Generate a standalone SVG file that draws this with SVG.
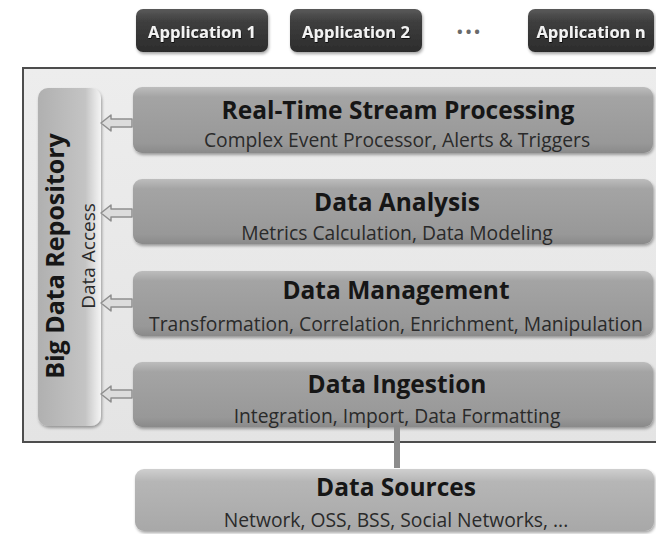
<svg xmlns="http://www.w3.org/2000/svg" width="656" height="534" viewBox="0 0 656 534">
  <defs>
    <linearGradient id="gLayer" x1="0" y1="0" x2="0" y2="1">
      <stop offset="0" stop-color="#bdbdbd"/>
      <stop offset="0.15" stop-color="#a4a4a4"/>
      <stop offset="0.85" stop-color="#989898"/>
      <stop offset="1" stop-color="#8a8a8a"/>
    </linearGradient>
    <linearGradient id="gSrc" x1="0" y1="0" x2="0" y2="1">
      <stop offset="0" stop-color="#cfcfcf"/>
      <stop offset="0.2" stop-color="#b6b6b6"/>
      <stop offset="1" stop-color="#a8a8a8"/>
    </linearGradient>
    <linearGradient id="gRepo" x1="0" y1="0" x2="1" y2="0">
      <stop offset="0" stop-color="#b0b0b0"/>
      <stop offset="0.75" stop-color="#c4c4c4"/>
      <stop offset="0.9" stop-color="#e2e2e2"/>
      <stop offset="1" stop-color="#f4f4f4"/>
    </linearGradient>
    <linearGradient id="gApp" x1="0" y1="0" x2="0" y2="1">
      <stop offset="0" stop-color="#5a5a5a"/>
      <stop offset="0.3" stop-color="#3e3e3e"/>
      <stop offset="1" stop-color="#2c2c2c"/>
    </linearGradient>
    <linearGradient id="gFrame" x1="0" y1="0" x2="0" y2="1">
      <stop offset="0" stop-color="#ededed"/>
      <stop offset="1" stop-color="#e4e4e4"/>
    </linearGradient>
    <filter id="shadow" x="-5%" y="-10%" width="110%" height="130%">
      <feDropShadow dx="1" dy="2" stdDeviation="1.5" flood-color="#000" flood-opacity="0.35"/>
    </filter>
    <filter id="tshadow" x="-5%" y="-20%" width="110%" height="140%">
      <feDropShadow dx="0.5" dy="1" stdDeviation="0.6" flood-color="#000" flood-opacity="0.8"/>
    </filter>
  </defs>
  <style>
    .layer { fill: url(#gLayer); filter: url(#shadow); }
    .src { fill: url(#gSrc); filter: url(#shadow); }
    .app { fill: url(#gApp); filter: url(#shadow); }
    .title { font-family: "Open Sans", "Liberation Sans", sans-serif; font-weight: bold; font-size: 24.5px; fill: #161616; text-anchor: middle; }
    .sub { font-family: "Open Sans", "Liberation Sans", sans-serif; font-size: 19.3px; fill: #2a2a2a; text-anchor: middle; }
    .apptext { font-family: "Open Sans", "Liberation Sans", sans-serif; font-weight: bold; font-size: 16.5px; fill: #f2f2f2; text-anchor: middle; filter: url(#tshadow); }
    .arrow { fill: #dcdcdc; stroke: #8e8e8e; stroke-width: 1.5; stroke-linejoin: round; }
  </style>

  <rect width="656" height="534" fill="#ffffff"/>

  <!-- Applications -->
  <g id="app1">
    <rect class="app" x="136" y="9" width="132" height="43" rx="7"/>
    <text class="apptext" x="202" y="38">Application 1</text>
  </g>
  <g id="app2">
    <rect class="app" x="290" y="9" width="132" height="43" rx="7"/>
    <text class="apptext" x="356" y="38">Application 2</text>
  </g>
  <g id="dots">
    <text x="470" y="37" font-family="'Open Sans', 'Liberation Sans', sans-serif" font-weight="bold" font-size="15" letter-spacing="3" fill="#6a6a6a" text-anchor="middle">•••</text>
  </g>
  <g id="appn">
    <rect class="app" x="528" y="9" width="126" height="43" rx="7"/>
    <text class="apptext" x="591" y="38">Application n</text>
  </g>

  <!-- Platform frame -->
  <g id="platform">
    <rect x="23" y="68" width="640" height="374" fill="url(#gFrame)" stroke="#4d4d4d" stroke-width="2"/>
  </g>

  <!-- Big Data Repository -->
  <g id="repository">
    <rect x="38" y="88" width="63" height="338" rx="10" fill="url(#gRepo)" filter="url(#shadow)"/>
    <text transform="translate(64,256) rotate(-90)" x="0" y="0" class="title" style="font-size:25px">Big Data Repository</text>
    <text transform="translate(95,256) rotate(-90)" x="0" y="0" class="sub" style="font-size:19px">Data Access</text>
  </g>

  <!-- Layers -->
  <g id="stream">
    <rect class="layer" x="133" y="87" width="520" height="66" rx="9"/>
    <text class="title" x="398" y="119">Real-Time Stream Processing</text>
    <text class="sub" x="397" y="147">Complex Event Processor, Alerts &amp; Triggers</text>
  </g>
  <g id="analysis">
    <rect class="layer" x="133" y="179" width="520" height="65" rx="9"/>
    <text class="title" x="397" y="211">Data Analysis</text>
    <text class="sub" x="397" y="240">Metrics Calculation, Data Modeling</text>
  </g>
  <g id="management">
    <rect class="layer" x="133" y="271" width="520" height="65" rx="9"/>
    <text class="title" x="396" y="299">Data Management</text>
    <text class="sub" x="396" y="331">Transformation, Correlation, Enrichment, Manipulation</text>
  </g>
  <g id="ingestion">
    <rect class="layer" x="133" y="362" width="520" height="65" rx="9"/>
    <text class="title" x="397" y="393">Data Ingestion</text>
    <text class="sub" x="397" y="423">Integration, Import, Data Formatting</text>
  </g>

  <!-- Data Sources -->
  <g id="sources">
    <rect class="src" x="135" y="469" width="519" height="62" rx="9"/>
    <text class="title" x="396" y="496">Data Sources</text>
    <text class="sub" x="396" y="527">Network, OSS, BSS, Social Networks, ...</text>
  </g>

  <!-- Connectors -->
  <g id="connectors">
    <path class="arrow" d="M101,123 L111,115 L111,119 L132,119 L132,127 L111,127 L111,131 Z"/>
    <path class="arrow" d="M101,213 L111,205 L111,209 L132,209 L132,217 L111,217 L111,221 Z"/>
    <path class="arrow" d="M101,303 L111,295 L111,299 L132,299 L132,307 L111,307 L111,311 Z"/>
    <path class="arrow" d="M101,394 L111,386 L111,390 L132,390 L132,398 L111,398 L111,402 Z"/>
    <rect x="394" y="427" width="6" height="41" fill="#8c8c8c"/>
  </g>
</svg>
